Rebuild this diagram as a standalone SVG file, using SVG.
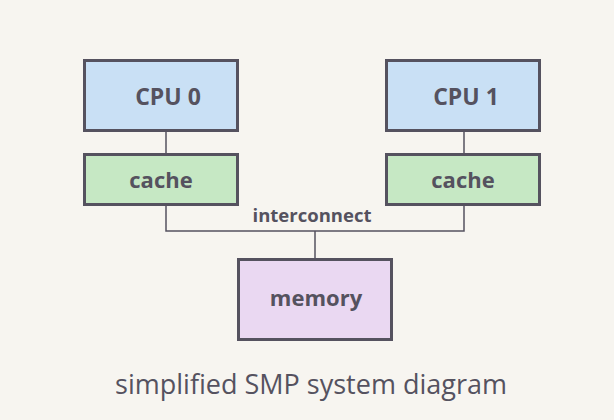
<svg xmlns="http://www.w3.org/2000/svg" width="614" height="420" viewBox="0 0 614 420">
<style>
.box{stroke:#55525f;stroke-width:3}
.cpu{fill:#c9e0f5}.cache{fill:#c6e8c4}.mem{fill:#ead8f2}
.lbl{font-family:"Open Sans",Lato,sans-serif;font-weight:bold;font-size:22px;fill:#55525f;text-anchor:middle}
.ln{stroke:#55525f;stroke-width:1.5;fill:none}
</style>
<rect width="614" height="420" fill="#f7f5f0"/>
<g id="connectors">
<line class="ln" x1="166" y1="131" x2="166" y2="154"/>
<line class="ln" x1="464" y1="131" x2="464" y2="154"/>
<polyline class="ln" points="166,205 166,231 464,231 464,205"/>
<line class="ln" x1="315" y1="231" x2="315" y2="259"/>
<text class="lbl" x="312" y="222" style="font-size:18.5px">interconnect</text>
</g>
<g id="cpu0"><rect class="box cpu" x="84.5" y="60.5" width="153" height="70"/><text class="lbl" x="168" y="105" style="font-size:23px">CPU 0</text></g>
<g id="cpu1"><rect class="box cpu" x="386.5" y="60.5" width="153" height="70"/><text class="lbl" x="466" y="105" style="font-size:23px">CPU 1</text></g>
<g id="cache0"><rect class="box cache" x="84.5" y="154.5" width="153" height="50"/><text class="lbl" x="161" y="188">cache</text></g>
<g id="cache1"><rect class="box cache" x="386.5" y="154.5" width="153" height="50"/><text class="lbl" x="463" y="188">cache</text></g>
<g id="memory"><rect class="box mem" x="238.5" y="259.5" width="153" height="80"/><text class="lbl" x="316" y="306">memory</text></g>
<text x="311" y="394" style="font-family:'Open Sans',Lato,sans-serif;font-size:27px;fill:#55525f;text-anchor:middle">simplified SMP system diagram</text>
</svg>
